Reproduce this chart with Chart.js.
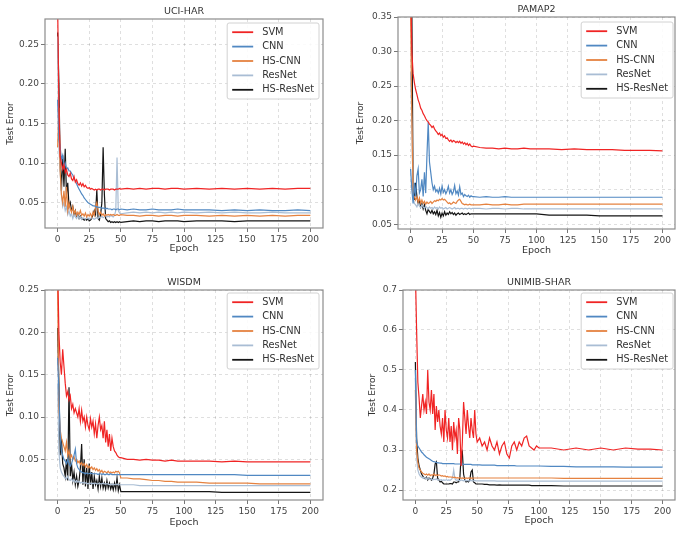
<!DOCTYPE html>
<html>
<head>
<meta charset="utf-8">
<script src="https://cdn.jsdelivr.net/npm/chart.js@4.4.0/dist/chart.umd.min.js"></script>
<style>
  body { margin: 0; background: #fff; width: 685px; height: 534px; position: relative; overflow: hidden; }
  canvas { position: absolute; }
</style>
</head>
<body>
<canvas id="c1" width="340" height="265" style="left:0px;top:0px"></canvas>
<canvas id="c2" width="340" height="265" style="left:345px;top:0px"></canvas>
<canvas id="c3" width="340" height="267" style="left:0px;top:267px"></canvas>
<canvas id="c4" width="340" height="267" style="left:345px;top:267px"></canvas>
<script>
// series / ticks
const seriesNames = ['SVM', 'CNN', 'HS-CNN', 'ResNet', 'HS-ResNet'];
const seriesColors = ['#f02424', '#5088c2', '#e58240', '#a9bdd4', '#151515'];
const xTicks = [0, 25, 50, 75, 100, 125, 150, 175, 200];

const epochs71 = [0,1,2,3,4,5,6,7,8,9,
  10,11,12,13,14,15,16,17,18,19,
  20,21,22,23,24,25,26,27,28,29,
  30,31,32,33,34,35,36,37,38,39,
  40,41,42,43,44,45,46,47,48,49,
  50,55,60,65,70,75,80,85,90,95,
  100,110,120,130,140,150,160,170,180,190,
  200];
const epochs86 = [0,1,2,3,4,5,6,7,8,9,
  10,11,12,13,14,15,16,17,18,19,
  20,21,22,23,24,25,26,27,28,29,
  30,31,32,33,34,35,36,37,38,39,
  40,41,42,43,44,45,46,47,48,49,
  50,52,54,56,58,60,62,64,66,68,
  70,72,74,76,78,80,82,84,86,88,
  90,92,94,96,98,100,110,120,130,140,
  150,160,170,180,190,200];

// UCI-HAR
const uciTicks = [0.05, 0.10, 0.15, 0.20, 0.25];
const uciSvm = [0.300,0.170,0.108,0.100,0.092,0.098,0.088,0.092,0.085,0.083,
  0.087,0.080,0.078,0.083,0.076,0.079,0.074,0.072,0.075,0.071,
  0.074,0.070,0.072,0.069,0.068,0.069,0.067,0.068,0.067,0.066,
  0.067,0.066,0.067,0.067,0.066,0.067,0.067,0.066,0.067,0.067,
  0.067,0.066,0.067,0.067,0.067,0.066,0.067,0.067,0.067,0.068,
  0.067,0.068,0.067,0.068,0.067,0.068,0.068,0.067,0.068,0.068,
  0.067,0.068,0.067,0.068,0.067,0.068,0.067,0.068,0.067,0.068,
  0.068];
const uciCnn = [0.180,0.130,0.120,0.105,0.110,0.095,0.100,0.092,0.094,0.090,
  0.090,0.087,0.085,0.080,0.078,0.074,0.070,0.067,0.064,0.061,
  0.059,0.056,0.054,0.052,0.050,0.049,0.048,0.047,0.046,0.046,
  0.045,0.045,0.044,0.044,0.044,0.043,0.043,0.043,0.042,0.043,
  0.042,0.042,0.042,0.041,0.042,0.042,0.041,0.042,0.042,0.041,
  0.042,0.041,0.042,0.041,0.041,0.042,0.041,0.041,0.041,0.042,
  0.041,0.041,0.041,0.040,0.041,0.040,0.041,0.040,0.040,0.041,
  0.040];
const uciHsCnn = [0.120,0.170,0.090,0.060,0.050,0.065,0.045,0.070,0.040,0.050,
  0.042,0.038,0.045,0.036,0.040,0.034,0.038,0.035,0.040,0.034,
  0.036,0.033,0.037,0.032,0.035,0.033,0.036,0.032,0.038,0.034,
  0.045,0.050,0.040,0.035,0.038,0.034,0.036,0.033,0.035,0.034,
  0.035,0.034,0.035,0.034,0.035,0.034,0.034,0.035,0.034,0.034,
  0.035,0.034,0.034,0.033,0.034,0.034,0.033,0.034,0.034,0.033,
  0.034,0.034,0.033,0.034,0.033,0.034,0.033,0.034,0.033,0.034,
  0.034];
const uciResNet = [0.260,0.120,0.090,0.060,0.045,0.050,0.040,0.045,0.035,0.040,
  0.033,0.036,0.030,0.035,0.032,0.030,0.034,0.030,0.032,0.029,
  0.031,0.030,0.029,0.031,0.030,0.029,0.030,0.031,0.030,0.029,
  0.030,0.031,0.030,0.032,0.031,0.033,0.031,0.032,0.034,0.032,
  0.033,0.032,0.034,0.033,0.032,0.034,0.040,0.107,0.040,0.037,
  0.036,0.037,0.038,0.037,0.038,0.037,0.038,0.037,0.038,0.037,
  0.038,0.037,0.038,0.037,0.038,0.037,0.037,0.038,0.037,0.037,
  0.037];
const uciHsResNet = [0.265,0.200,0.100,0.065,0.110,0.070,0.118,0.060,0.075,0.045,
  0.050,0.040,0.045,0.035,0.040,0.032,0.035,0.030,0.033,0.029,
  0.030,0.028,0.029,0.028,0.030,0.027,0.028,0.030,0.035,0.040,
  0.035,0.066,0.030,0.028,0.035,0.050,0.120,0.060,0.030,0.028,
  0.026,0.027,0.025,0.026,0.025,0.026,0.025,0.026,0.025,0.026,
  0.025,0.026,0.027,0.026,0.027,0.027,0.026,0.027,0.027,0.027,
  0.026,0.027,0.027,0.027,0.026,0.027,0.027,0.027,0.027,0.027,
  0.027];

// PAMAP2
const pamapTicks = [0.05, 0.10, 0.15, 0.20, 0.25, 0.30, 0.35];
const pamapSvm = [0.400,0.300,0.268,0.255,0.245,0.238,0.230,0.225,0.218,0.215,
  0.210,0.207,0.203,0.200,0.198,0.195,0.193,0.190,0.192,0.188,
  0.185,0.183,0.180,0.182,0.178,0.180,0.176,0.178,0.174,0.175,
  0.172,0.170,0.172,0.169,0.171,0.170,0.168,0.170,0.168,0.170,
  0.167,0.169,0.166,0.168,0.165,0.167,0.164,0.166,0.163,0.162,
  0.163,0.161,0.160,0.160,0.159,0.160,0.159,0.159,0.160,0.159,
  0.159,0.159,0.158,0.159,0.158,0.158,0.158,0.157,0.157,0.157,
  0.156];
const pamapCnn = [0.130,0.100,0.080,0.110,0.090,0.120,0.130,0.095,0.100,0.115,
  0.090,0.125,0.095,0.150,0.198,0.140,0.125,0.110,0.100,0.105,
  0.097,0.100,0.095,0.102,0.094,0.105,0.096,0.100,0.094,0.098,
  0.105,0.095,0.100,0.093,0.097,0.106,0.094,0.098,0.092,0.104,
  0.093,0.095,0.090,0.093,0.091,0.090,0.092,0.089,0.091,0.090,
  0.090,0.089,0.090,0.089,0.089,0.090,0.089,0.089,0.089,0.089,
  0.089,0.089,0.089,0.089,0.089,0.089,0.089,0.089,0.089,0.089,
  0.089];
const pamapHsCnn = [0.360,0.200,0.092,0.090,0.085,0.090,0.082,0.088,0.080,0.085,
  0.080,0.083,0.079,0.082,0.080,0.081,0.083,0.080,0.082,0.084,
  0.083,0.085,0.084,0.086,0.085,0.087,0.085,0.086,0.084,0.082,
  0.080,0.081,0.079,0.080,0.082,0.081,0.080,0.083,0.085,0.086,
  0.083,0.080,0.079,0.078,0.079,0.078,0.078,0.079,0.078,0.078,
  0.078,0.078,0.079,0.078,0.078,0.079,0.078,0.078,0.079,0.079,
  0.079,0.079,0.079,0.079,0.079,0.079,0.079,0.079,0.079,0.079,
  0.079];
const pamapResNet = [0.270,0.200,0.090,0.080,0.078,0.075,0.080,0.076,0.074,0.078,
  0.075,0.073,0.076,0.074,0.072,0.075,0.073,0.074,0.072,0.075,
  0.073,0.074,0.072,0.075,0.073,0.074,0.072,0.073,0.074,0.072,
  0.073,0.074,0.073,0.072,0.073,0.074,0.072,0.073,0.073,0.072,
  0.073,0.073,0.072,0.073,0.073,0.072,0.073,0.073,0.072,0.073,
  0.073,0.073,0.072,0.073,0.073,0.072,0.073,0.073,0.072,0.072,
  0.072,0.072,0.072,0.072,0.072,0.072,0.072,0.072,0.072,0.072,
  0.072];
const pamapHsResNet = [0.420,0.360,0.100,0.085,0.110,0.090,0.080,0.085,0.075,0.080,
  0.072,0.078,0.070,0.065,0.072,0.068,0.066,0.070,0.065,0.068,
  0.064,0.070,0.062,0.067,0.060,0.066,0.062,0.068,0.063,0.066,
  0.064,0.068,0.065,0.067,0.064,0.066,0.063,0.065,0.066,0.064,
  0.065,0.066,0.064,0.065,0.064,0.065,0.066,0.064,0.065,0.065,
  0.065,0.065,0.065,0.065,0.065,0.065,0.065,0.065,0.065,0.065,
  0.065,0.063,0.063,0.063,0.063,0.062,0.062,0.062,0.062,0.062,
  0.062];

// WISDM
const wisdmTicks = [0.05, 0.10, 0.15, 0.20, 0.25];
const wisdmSvm = [0.280,0.200,0.165,0.150,0.180,0.160,0.140,0.125,0.130,0.120,
  0.125,0.110,0.115,0.105,0.110,0.105,0.100,0.110,0.095,0.108,
  0.095,0.100,0.088,0.100,0.090,0.085,0.098,0.088,0.095,0.080,
  0.092,0.075,0.090,0.100,0.085,0.090,0.075,0.095,0.070,0.085,
  0.065,0.080,0.060,0.075,0.065,0.060,0.058,0.055,0.053,0.052,
  0.052,0.050,0.050,0.049,0.050,0.049,0.049,0.048,0.049,0.048,
  0.048,0.048,0.048,0.047,0.048,0.047,0.047,0.047,0.047,0.047,
  0.047];
const wisdmCnn = [0.170,0.130,0.080,0.060,0.055,0.050,0.048,0.045,0.050,0.045,
  0.042,0.045,0.050,0.055,0.062,0.045,0.040,0.038,0.036,0.035,
  0.034,0.034,0.033,0.034,0.033,0.033,0.034,0.033,0.033,0.033,
  0.033,0.033,0.032,0.033,0.033,0.032,0.033,0.032,0.032,0.033,
  0.032,0.032,0.033,0.032,0.032,0.032,0.032,0.032,0.032,0.032,
  0.032,0.032,0.032,0.032,0.032,0.032,0.032,0.032,0.032,0.032,
  0.032,0.032,0.032,0.032,0.032,0.031,0.031,0.031,0.031,0.031,
  0.031];
const wisdmHsCnn = [0.250,0.110,0.085,0.075,0.070,0.065,0.060,0.070,0.055,0.060,
  0.052,0.055,0.050,0.053,0.048,0.050,0.046,0.048,0.044,0.046,
  0.043,0.045,0.041,0.044,0.040,0.042,0.039,0.041,0.038,0.040,
  0.037,0.039,0.036,0.038,0.035,0.037,0.034,0.036,0.035,0.034,
  0.036,0.034,0.035,0.034,0.035,0.034,0.036,0.035,0.036,0.034,
  0.028,0.028,0.027,0.027,0.026,0.025,0.025,0.024,0.024,0.023,
  0.023,0.023,0.022,0.022,0.022,0.022,0.021,0.021,0.021,0.021,
  0.021];
const wisdmResNet = [0.140,0.060,0.040,0.035,0.032,0.030,0.028,0.027,0.030,0.026,
  0.025,0.027,0.024,0.026,0.023,0.025,0.023,0.024,0.022,0.023,
  0.022,0.023,0.022,0.022,0.021,0.022,0.022,0.021,0.022,0.021,
  0.022,0.021,0.021,0.022,0.021,0.021,0.022,0.021,0.021,0.021,
  0.021,0.020,0.021,0.020,0.021,0.020,0.020,0.021,0.020,0.020,
  0.020,0.020,0.020,0.019,0.019,0.019,0.019,0.019,0.019,0.019,
  0.019,0.019,0.019,0.019,0.019,0.019,0.019,0.019,0.019,0.019,
  0.019];
const wisdmHsResNet = [0.205,0.140,0.055,0.075,0.045,0.040,0.030,0.050,0.025,0.135,
  0.030,0.045,0.025,0.035,0.020,0.030,0.018,0.025,0.040,0.068,
  0.020,0.050,0.018,0.040,0.015,0.045,0.020,0.035,0.015,0.030,
  0.020,0.025,0.015,0.030,0.018,0.028,0.016,0.022,0.015,0.025,
  0.016,0.022,0.015,0.020,0.014,0.022,0.015,0.028,0.013,0.020,
  0.012,0.012,0.012,0.012,0.012,0.012,0.012,0.012,0.012,0.012,
  0.012,0.012,0.012,0.011,0.011,0.011,0.011,0.011,0.011,0.011,
  0.011];

// UNIMIB-SHAR
const unimibTicks = [0.2, 0.3, 0.4, 0.5, 0.6, 0.7];
const unimibSvm = [0.750,0.600,0.470,0.430,0.380,0.410,0.440,0.400,0.420,0.390,
  0.500,0.420,0.400,0.450,0.390,0.440,0.350,0.410,0.370,0.400,
  0.360,0.340,0.380,0.320,0.400,0.350,0.330,0.380,0.320,0.360,
  0.300,0.370,0.330,0.350,0.290,0.380,0.350,0.260,0.320,0.420,
  0.380,0.340,0.400,0.360,0.330,0.380,0.350,0.330,0.400,0.340,
  0.320,0.330,0.310,0.320,0.300,0.330,0.310,0.300,0.320,0.290,
  0.310,0.320,0.290,0.280,0.310,0.320,0.300,0.320,0.310,0.330,
  0.335,0.310,0.305,0.300,0.310,0.305,0.305,0.300,0.305,0.300,
  0.305,0.300,0.305,0.302,0.302,0.300];
const unimibCnn = [0.500,0.320,0.310,0.305,0.300,0.295,0.292,0.288,0.285,0.282,
  0.280,0.278,0.276,0.274,0.272,0.271,0.270,0.269,0.268,0.268,
  0.267,0.267,0.266,0.266,0.266,0.266,0.266,0.266,0.266,0.266,
  0.266,0.266,0.265,0.265,0.265,0.265,0.265,0.265,0.265,0.264,
  0.264,0.264,0.264,0.264,0.264,0.264,0.263,0.263,0.263,0.263,
  0.263,0.263,0.262,0.262,0.262,0.262,0.262,0.262,0.261,0.261,
  0.261,0.261,0.261,0.261,0.261,0.261,0.260,0.260,0.260,0.260,
  0.260,0.260,0.260,0.260,0.260,0.260,0.259,0.259,0.258,0.258,
  0.258,0.258,0.257,0.257,0.257,0.257];
const unimibHsCnn = [0.450,0.300,0.270,0.255,0.250,0.245,0.242,0.240,0.238,0.240,
  0.237,0.240,0.236,0.238,0.237,0.240,0.236,0.238,0.236,0.238,
  0.237,0.235,0.236,0.234,0.235,0.233,0.234,0.232,0.233,0.232,
  0.232,0.231,0.232,0.230,0.231,0.230,0.231,0.229,0.230,0.229,
  0.229,0.230,0.229,0.230,0.229,0.230,0.229,0.230,0.230,0.230,
  0.230,0.230,0.230,0.230,0.230,0.230,0.230,0.230,0.230,0.230,
  0.230,0.230,0.230,0.230,0.230,0.230,0.230,0.230,0.230,0.230,
  0.230,0.230,0.230,0.230,0.230,0.230,0.230,0.229,0.229,0.229,
  0.229,0.229,0.229,0.229,0.229,0.229];
const unimibResNet = [0.480,0.280,0.250,0.240,0.235,0.232,0.230,0.232,0.228,0.230,
  0.227,0.229,0.226,0.228,0.225,0.227,0.226,0.228,0.225,0.226,
  0.225,0.226,0.224,0.225,0.224,0.226,0.224,0.225,0.224,0.226,
  0.230,0.250,0.228,0.224,0.225,0.224,0.223,0.225,0.224,0.223,
  0.224,0.223,0.224,0.223,0.223,0.224,0.223,0.223,0.224,0.223,
  0.223,0.223,0.223,0.223,0.223,0.223,0.223,0.223,0.222,0.222,
  0.222,0.222,0.222,0.222,0.222,0.222,0.222,0.222,0.222,0.222,
  0.222,0.222,0.222,0.222,0.222,0.222,0.222,0.222,0.222,0.222,
  0.222,0.222,0.222,0.222,0.222,0.222];
const unimibHsResNet = [0.520,0.330,0.280,0.260,0.250,0.240,0.235,0.230,0.228,0.232,
  0.225,0.230,0.228,0.225,0.230,0.240,0.265,0.270,0.230,0.225,
  0.220,0.222,0.218,0.215,0.215,0.215,0.215,0.215,0.216,0.216,
  0.215,0.220,0.220,0.218,0.220,0.220,0.230,0.285,0.295,0.240,
  0.225,0.220,0.222,0.220,0.225,0.245,0.250,0.220,0.218,0.215,
  0.215,0.215,0.215,0.214,0.214,0.213,0.213,0.213,0.212,0.213,
  0.212,0.212,0.212,0.212,0.212,0.212,0.212,0.212,0.212,0.212,
  0.212,0.212,0.211,0.211,0.211,0.211,0.211,0.210,0.210,0.210,
  0.210,0.210,0.210,0.210,0.210,0.210];

const FONT = '"DejaVu Sans", sans-serif';

// frame round the plot (matplotlib spines)
const framePlugin = {
  id: 'frame',
  afterDatasetsDraw(chart) {
    const a = chart.chartArea, ctx = chart.ctx;
    ctx.save();
    ctx.strokeStyle = '#8c8c8c';
    ctx.lineWidth = 1.2;
    ctx.strokeRect(a.left, a.top, a.right - a.left, a.bottom - a.top);
    ctx.restore();
  }
};

// boxed legend in the top right corner
const legendPlugin = {
  id: 'boxLegend',
  afterDatasetsDraw(chart, args, opts) {
    const ctx = chart.ctx, a = chart.chartArea;
    const items = chart.data.datasets;
    const rowH = 14.4, lineLen = 21, gap = 9, padX = 5, padY = 2;
    ctx.save();
    ctx.font = '9.8px ' + FONT;
    const textW = Math.max(...items.map(d => ctx.measureText(d.label).width));
    const w = padX + lineLen + gap + textW + padX;
    const h = padY * 2 + rowH * items.length;
    const x = a.right - opts.right - w, y = a.top + opts.top;
    ctx.fillStyle = 'rgba(255,255,255,0.85)';
    ctx.strokeStyle = '#d2d2d2';
    ctx.lineWidth = 1;
    ctx.beginPath();
    ctx.roundRect(x, y, w, h, 2);
    ctx.fill();
    ctx.stroke();
    items.forEach((d, i) => {
      const cy = y + padY + rowH * (i + 0.5);
      ctx.strokeStyle = d.borderColor;
      ctx.lineWidth = 1.8;
      ctx.beginPath();
      ctx.moveTo(x + padX, cy);
      ctx.lineTo(x + padX + lineLen, cy);
      ctx.stroke();
      ctx.fillStyle = '#333';
      ctx.textBaseline = 'middle';
      ctx.fillText(d.label, x + padX + lineLen + gap, cy);
    });
    ctx.restore();
  }
};

function drawPanel(p) {
  const datasets = p.series.map((vals, i) => ({
    label: seriesNames[i],
    data: vals.map((v, j) => ({x: p.epochs[j], y: v})),
    borderColor: seriesColors[i],
    borderWidth: 1.2,
    pointRadius: 0,
    tension: 0,
    fill: false
  }));
  const titleH = 9.5 * 1.2 + 2;
  const xAxisH = 30;
  const canvas = document.getElementById(p.id);
  return new Chart(canvas, {
    type: 'line',
    data: {datasets: datasets},
    options: {
      responsive: false,
      animation: false,
      devicePixelRatio: 1,
      layout: {
        padding: {
          left: 0,
          top: p.area.t - titleH,
          right: canvas.width - p.area.r,
          bottom: canvas.height - p.area.b - xAxisH
        }
      },
      plugins: {
        legend: {display: false},
        tooltip: {enabled: false},
        title: {
          display: true, text: p.title, color: '#333', fullSize: false,
          font: {family: FONT, size: 9.5, weight: 'normal'},
          padding: {top: 0, bottom: 2}
        },
        boxLegend: {right: p.legendRight, top: p.legendTop}
      },
      scales: {
        x: {
          type: 'linear', min: -10, max: 210,
          afterBuildTicks: s => { s.ticks = xTicks.map(v => ({value: v})); },
          afterFit: s => { s.height = xAxisH; },
          ticks: {color: '#444', font: {family: FONT, size: 9}, padding: 2, maxRotation: 0,
            callback: v => String(v)},
          grid: {color: 'rgba(0,0,0,0.16)', lineWidth: 0.8, tickLength: 4, tickColor: '#777',
            tickBorderDash: [1, 0], tickWidth: 1},
          border: {display: false, dash: [3, 3]},
          title: {display: true, text: 'Epoch', color: '#333', font: {family: FONT, size: 9.5},
            padding: {top: 0, bottom: p.xTitlePad}}
        },
        y: {
          min: p.yMin, max: p.yMax,
          afterBuildTicks: s => { s.ticks = p.yTicks.map(v => ({value: v})); },
          afterFit: s => { s.width = p.area.l; },
          ticks: {color: '#444', font: {family: FONT, size: 9}, padding: 2,
            callback: v => v.toFixed(p.decimals)},
          grid: {color: 'rgba(0,0,0,0.16)', lineWidth: 0.8, tickLength: 4, tickColor: '#777',
            tickBorderDash: [1, 0], tickWidth: 1},
          border: {display: false, dash: [3, 3]},
          title: {display: true, text: 'Test Error', color: '#333', font: {family: FONT, size: 9},
            padding: {top: p.yTitlePad, bottom: 0}}
        }
      }
    },
    plugins: [framePlugin, legendPlugin]
  });
}

drawPanel({id: 'c1', title: 'UCI-HAR', epochs: epochs71,
  series: [uciSvm, uciCnn, uciHsCnn, uciResNet, uciHsResNet],
  yMin: 0.018, yMax: 0.282, yTicks: uciTicks, decimals: 2,
  area: {l: 45, t: 19, r: 323, b: 228}, legendRight: 4, legendTop: 4,
  yTitlePad: 5, xTitlePad: 4});
drawPanel({id: 'c2', title: 'PAMAP2', epochs: epochs71,
  series: [pamapSvm, pamapCnn, pamapHsCnn, pamapResNet, pamapHsResNet],
  yMin: 0.043, yMax: 0.35, yTicks: pamapTicks, decimals: 2,
  area: {l: 53, t: 17, r: 330, b: 229}, legendRight: 2, legendTop: 5,
  yTitlePad: 10, xTitlePad: 3});
drawPanel({id: 'c3', title: 'WISDM', epochs: epochs71,
  series: [wisdmSvm, wisdmCnn, wisdmHsCnn, wisdmResNet, wisdmHsResNet],
  yMin: 0.002, yMax: 0.25, yTicks: wisdmTicks, decimals: 2,
  area: {l: 45, t: 23, r: 323, b: 233}, legendRight: 4, legendTop: 3,
  yTitlePad: 5, xTitlePad: 1.5});
drawPanel({id: 'c4', title: 'UNIMIB-SHAR', epochs: epochs86,
  series: [unimibSvm, unimibCnn, unimibHsCnn, unimibResNet, unimibHsResNet],
  yMin: 0.175, yMax: 0.7, yTicks: unimibTicks, decimals: 1,
  area: {l: 58, t: 23, r: 330, b: 233}, legendRight: 2, legendTop: 3,
  yTitlePad: 22, xTitlePad: 3.5});
</script>
</body>
</html>
